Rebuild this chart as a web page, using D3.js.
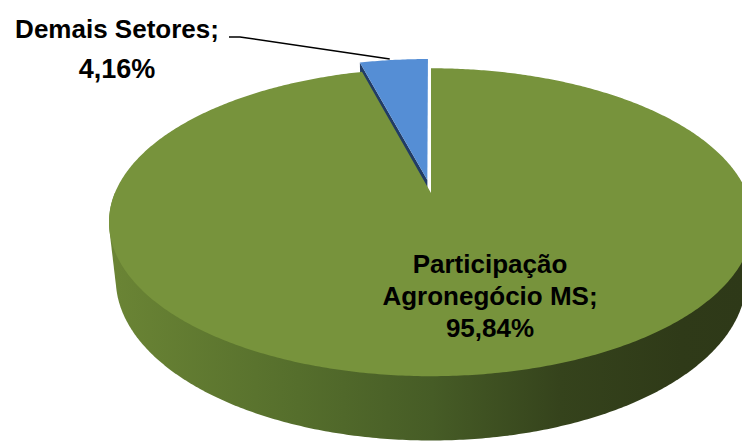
<!DOCTYPE html>
<html><head><meta charset="utf-8">
<script src="https://cdn.jsdelivr.net/npm/d3@7"></script>
<style>body{margin:0;background:#fff}svg{display:block}</style>
</head><body>
<script>
var categories = ['Participação Agronegócio MS', 'Demais Setores']
var values = [95.84, 4.16]
var valueLabels = ['95,84%', '4,16%']
var colors = ['#77933c', '#558ed5']
var wallColors = ['url(#sideGrad)', '#213c66']

var W = 742, H = 444
var svg = d3.select('body').append('svg').attr('width',W).attr('height',H)

// perspective camera looking down at the disc
var cx = 431, cy = 193, D = 4.65, f = 1470
var tilt = 28*Math.PI/180, s = Math.sin(tilt), c = Math.cos(tilt)
var depth = 0.205
var explode = 0.09

function proj(a, r, h, off){
	var u = r*Math.sin(a) + off[0], v = r*Math.cos(a) + off[1]
	var z = D + v*c - h*s
	return [cx + f*u/z, cy - f*(v*s + h*c)/z]
}
function arcPts(a0, a1, r, h, off){
	var n = Math.max(2, Math.ceil((a1-a0)/0.01))
	return d3.range(n+1).map(i=>proj(a0 + (a1-a0)*i/n, r, h, off))
}

var grad = svg.append('defs').append('linearGradient').attr('id','sideGrad')
	.attr('gradientUnits','userSpaceOnUse').attr('x1',107).attr('x2',745).attr('y1',0).attr('y2',0)
;[[0,'#6b8535'],[0.3,'#556e2c'],[0.51,'#465c26'],[0.71,'#35431c'],[0.9,'#2f3a18'],[1,'#2e3918']]
	.forEach(d=>grad.append('stop').attr('offset',d[0]).attr('stop-color',d[1]))

var pie = d3.pie().sort(null).startAngle(0).endAngle(2*Math.PI)
var arcs = pie(values)
var line = d3.line()

arcs.forEach((d,i)=>{
	var mid = (d.startAngle + d.endAngle)/2
	var e = i==0 ? 0 : explode
	d.off = [e*Math.sin(mid), e*Math.cos(mid)]
})

var g = svg.append('g')

// small slice: left radial wall, then top
var b = arcs[1]
g.append('path').attr('fill', wallColors[1])
	.attr('d', line([proj(0,0,0,b.off), proj(b.startAngle,1,0,b.off), proj(b.startAngle,1,-depth,b.off), proj(0,0,-depth,b.off)]) + 'Z')
g.append('path').attr('fill', colors[1])
	.attr('d', line([proj(0,0,0,b.off)].concat(arcPts(b.startAngle, b.endAngle, 1, 0, b.off))) + 'Z')

// big slice: outer wall (near half) then top
var a = arcs[0]
var lo = Math.max(a.startAngle, Math.PI/2), hi = Math.min(a.endAngle, 3*Math.PI/2)
var hull = d3.polygonHull(arcPts(lo, hi, 1, 0, a.off).concat(arcPts(lo, hi, 1, -depth, a.off)))
g.append('path').attr('fill', wallColors[0]).attr('d', line(hull) + 'Z')
g.append('path').attr('fill', colors[0])
	.attr('d', line([proj(0,0,0,a.off)].concat(arcPts(a.startAngle, a.endAngle, 1, 0, a.off))) + 'Z')

// labels
var font = "'Liberation Sans', Arial, sans-serif"
var lab = svg.append('g').attr('font-family', font).attr('font-weight','bold')
	.attr('font-size', 26).attr('fill','#000').attr('text-anchor','middle')

var bigLines = ['Participação', 'Agronegócio MS;', valueLabels[0]]
bigLines.forEach((t,i)=>{
	lab.append('text').attr('x',490).attr('y',273 + i*32).text(t)
})
var smallLines = [categories[1] + ';', valueLabels[1]]
smallLines.forEach((t,i)=>{
	lab.append('text').attr('x',117).attr('y',38 + i*40).attr('font-size', i ? 27 : 26).text(t)
})

// leader line to the exploded slice
var tip = proj((b.startAngle+b.endAngle)/2, 1, 0, b.off)
svg.append('path').attr('fill','none').attr('stroke','#000').attr('stroke-width',1.5)
	.attr('d', line([[229,37],[240,37],[tip[0]-4, tip[1]-1]]))
</script>
</body></html>
